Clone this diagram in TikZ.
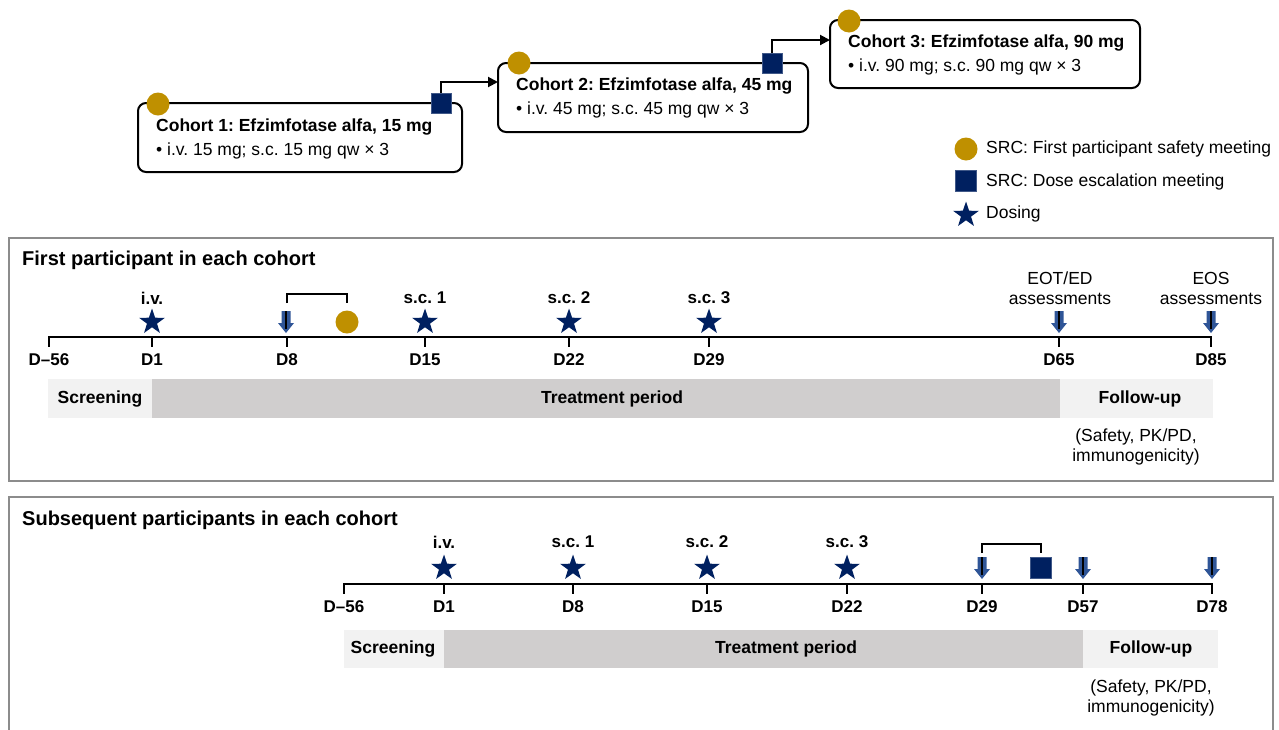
\documentclass[tikz,border=0pt]{standalone}
\usepackage{fontspec}
\setmainfont{Liberation Sans}
\usetikzlibrary{shapes.geometric,arrows.meta}
\definecolor{gold}{HTML}{BF9000}
\definecolor{navy}{HTML}{002060}
\definecolor{arrowblue}{HTML}{2F5597}
\definecolor{panelgray}{HTML}{8C8C8C}
\definecolor{lightbar}{HTML}{F2F2F2}
\definecolor{darkbar}{HTML}{D0CECE}
\frenchspacing
\begin{document}
\frenchspacing
\begin{tikzpicture}[x=1pt,y=-1pt,
  every node/.style={font=\fontsize{17.5}{20}\selectfont, inner sep=0pt},
  cohortbox/.style={draw=black, line width=2pt, rounded corners=8pt, fill=white},
  boxtitle/.style={anchor=west, font=\fontsize{17.5}{20}\selectfont\bfseries},
  boxtext/.style={anchor=west},
  srccirc/.style={circle, fill=gold, minimum size=23pt},
  srcsq/.style={rectangle, fill=navy, draw=navy!75!white, line width=0.6pt, minimum size=20pt},
  dose/.style={star, star points=5, star point ratio=2.55, fill=navy, minimum size=27pt},
  panel/.style={draw=panelgray, line width=2.5pt},
  ptitle/.style={anchor=west, font=\fontsize{20}{24}\selectfont\bfseries},
  daylbl/.style={font=\fontsize{17}{20}\selectfont\bfseries},
  doselbl/.style={font=\fontsize{17}{20}\selectfont\bfseries},
  barlbl/.style={font=\fontsize{17.5}{20}\selectfont\bfseries},
  tline/.style={line width=2pt},
  link/.style={line width=2pt, -{Triangle[length=10pt,width=10pt]}},
  bracket/.style={line width=2pt},
  assess/.pic={
    \fill[arrowblue] (-4.5,-11) -- (4.5,-11) -- (4.5,1) -- (8,1) -- (0,11) -- (-8,1) -- (-4.5,1) -- cycle;
    \draw[line width=1.3pt] (0,-11) -- (0,7);
  }
]
\useasboundingbox (0,0) rectangle (1279,729);

% ---------- cohort boxes ----------
\draw[cohortbox] (138,103) rectangle (462,172);
\node[boxtitle] (c1t) at (156,127) {Cohort 1: Efzimfotase alfa, 15 mg};
\node[boxtext]  (c1b) at (156,151) {\textbullet\ i.v. 15 mg; s.c. 15 mg qw × 3};
\node[srccirc] (c1c) at (158,104) {};
\node[srcsq] (c1s) at (441,103) {};

\draw[cohortbox] (498,63) rectangle (808,132);
\node[boxtitle] (c2t) at (516,86) {Cohort 2: Efzimfotase alfa, 45 mg};
\node[boxtext]  (c2b) at (516,110) {\textbullet\ i.v. 45 mg; s.c. 45 mg qw × 3};
\node[srccirc] (c2c) at (519,63) {};
\node[srcsq] (c2s) at (772,63) {};

\draw[cohortbox] (830,20) rectangle (1140,88);
\node[boxtitle] (c3t) at (848,43) {Cohort 3: Efzimfotase alfa, 90 mg};
\node[boxtext]  (c3b) at (848,67) {\textbullet\ i.v. 90 mg; s.c. 90 mg qw × 3};
\node[srccirc] (c3c) at (849,21) {};

\coordinate (c2in) at (498,82);
\coordinate (c3in) at (830,40);
\draw[link] (c1s.north) |- (c2in);
\draw[link] (c2s.north) |- (c3in);

% ---------- legend ----------
\node[srccirc] (lg1) at (966,149) {};
\node[anchor=west] (lg1t) at (986,149) {SRC: First participant safety meeting};
\node[srcsq, minimum size=21pt] (lg2) at (966,181) {};
\node[anchor=west] (lg2t) at (986,182) {SRC: Dose escalation meeting};
\node[dose] (lg3) at (966,215) {};
\node[anchor=west] (lg3t) at (986,214) {Dosing};

% ---------- panel 1 ----------
\draw[panel] (9,238) rectangle (1273,481);
\node[ptitle] (p1t) at (22,260) {First participant in each cohort};

\fill[lightbar] (48,379) rectangle (152,418);
\fill[darkbar] (152,379) rectangle (1060,418);
\fill[lightbar] (1060,379) rectangle (1213,418);
\node[barlbl] (p1scr) at (100,399) {Screening};
\node[barlbl] (p1trt) at (612,399) {Treatment period};
\node[barlbl] (p1fu) at (1140,399) {Follow-up};
\node[align=center, font=\fontsize{17.5}{20}\selectfont] (p1fun) at (1136,447) {(Safety, PK/PD,\\immunogenicity)};

\draw[tline] (49,337) -- (1211,337);
\foreach \x in {49,152,287,425,569,709,1059,1211} \draw[tline] (\x,336) -- (\x,347);
\node[daylbl] (p1d0) at (49,360) {D–56};
\node[daylbl] (p1d1) at (152,360) {D1};
\node[daylbl] (p1d8) at (287,360) {D8};
\node[daylbl] (p1d15) at (425,360) {D15};
\node[daylbl] (p1d22) at (569,360) {D22};
\node[daylbl] (p1d29) at (709,360) {D29};
\node[daylbl] (p1d65) at (1059,360) {D65};
\node[daylbl] (p1d85) at (1211,360) {D85};

\node[dose] (p1s0) at (152,322) {};
\node[dose] (p1s1) at (425,322) {};
\node[dose] (p1s2) at (569,322) {};
\node[dose] (p1s3) at (709,322) {};
\node[doselbl] (p1l0) at (152,298) {i.v.};
\node[doselbl] (p1l1) at (425,298) {s.c. 1};
\node[doselbl] (p1l2) at (569,298) {s.c. 2};
\node[doselbl] (p1l3) at (709,298) {s.c. 3};

\pic (p1a8) at (286,322) {assess};
\pic (p1a65) at (1059,322) {assess};
\pic (p1a85) at (1211,322) {assess};
\node[srccirc] (p1c) at (347,322) {};
\coordinate (p1bl) at (287,303);
\coordinate (p1br) at (347,303);
\draw[bracket] (p1bl) -- ++(0,-9) -| (p1br);

\node[align=center] (p1eot) at (1060,288) {EOT/ED\\assessments};
\node[align=center] (p1eos) at (1211,288) {EOS\\assessments};

% ---------- panel 2 ----------
\draw[panel] (9,735) -- (9,497) -- (1273,497) -- (1273,735);
\node[ptitle] (p2t) at (22,520) {Subsequent participants in each cohort};

\fill[lightbar] (344,630) rectangle (444,668);
\fill[darkbar] (444,630) rectangle (1083,668);
\fill[lightbar] (1083,630) rectangle (1218,668);
\node[barlbl] (p2scr) at (393,649) {Screening};
\node[barlbl] (p2trt) at (786,649) {Treatment period};
\node[barlbl] (p2fu) at (1151,649) {Follow-up};
\node[align=center, font=\fontsize{17.5}{20}\selectfont] (p2fun) at (1151,698) {(Safety, PK/PD,\\immunogenicity)};

\draw[tline] (344,584) -- (1212,584);
\foreach \x in {344,444,573,707,847,982,1083,1212} \draw[tline] (\x,583) -- (\x,594);
\node[daylbl] (p2d0) at (344,607) {D–56};
\node[daylbl] (p2d1) at (444,607) {D1};
\node[daylbl] (p2d8) at (573,607) {D8};
\node[daylbl] (p2d15) at (707,607) {D15};
\node[daylbl] (p2d22) at (847,607) {D22};
\node[daylbl] (p2d29) at (982,607) {D29};
\node[daylbl] (p2d57) at (1083,607) {D57};
\node[daylbl] (p2d78) at (1212,607) {D78};

\node[dose] (p2s0) at (444,568) {};
\node[dose] (p2s1) at (573,568) {};
\node[dose] (p2s2) at (707,568) {};
\node[dose] (p2s3) at (847,568) {};
\node[doselbl] (p2l0) at (444,542) {i.v.};
\node[doselbl] (p2l1) at (573,542) {s.c. 1};
\node[doselbl] (p2l2) at (707,542) {s.c. 2};
\node[doselbl] (p2l3) at (847,542) {s.c. 3};

\pic (p2a29) at (982,568) {assess};
\pic (p2a57) at (1083,568) {assess};
\pic (p2a78) at (1212,568) {assess};
\node[srcsq, minimum size=21pt] (p2sq) at (1041,568) {};
\coordinate (p2bl) at (982,553);
\coordinate (p2br) at (1041,553);
\draw[bracket] (p2bl) -- ++(0,-9) -| (p2br);
\end{tikzpicture}
\end{document}
